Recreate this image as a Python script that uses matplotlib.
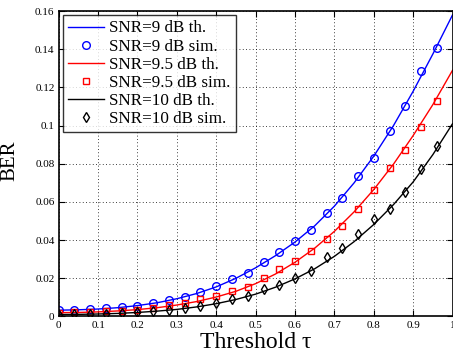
import matplotlib
matplotlib.use('Agg')
import matplotlib.pyplot as plt
from matplotlib.ticker import FuncFormatter

# theory curves
t_th = [0, 0.05, 0.1, 0.15, 0.2, 0.25, 0.3, 0.35, 0.4, 0.45, 0.5,
        0.55, 0.6, 0.65, 0.7, 0.75, 0.8, 0.85, 0.9, 0.95, 1.0]
ber9_th = [0.0033, 0.0035, 0.0039, 0.0046, 0.0057, 0.0072, 0.0093, 0.0120, 0.0155, 0.0200, 0.0255,
           0.0318, 0.0390, 0.0475, 0.0578, 0.0700, 0.0840, 0.1000, 0.1180, 0.1375, 0.1580]
ber95_th = [0.0020, 0.0021, 0.0024, 0.0029, 0.0036, 0.0046, 0.0060, 0.0078, 0.0102, 0.0132, 0.0172,
            0.0222, 0.0284, 0.0358, 0.0446, 0.0548, 0.0665, 0.0798, 0.0948, 0.1110, 0.1290]
ber10_th = [0.0010, 0.0011, 0.0013, 0.0016, 0.0021, 0.0028, 0.0037, 0.0050, 0.0067, 0.0089, 0.0117,
            0.0153, 0.0197, 0.0250, 0.0315, 0.0392, 0.0482, 0.0586, 0.0705, 0.0848, 0.1010]

# simulation points
t_sim = [0, 0.04, 0.08, 0.12, 0.16, 0.2, 0.24, 0.28, 0.32, 0.36, 0.4, 0.44, 0.48,
         0.52, 0.56, 0.6, 0.64, 0.68, 0.72, 0.76, 0.8, 0.84, 0.88, 0.92, 0.96]
ber9_sim = [0.0035, 0.0036, 0.0038, 0.0043, 0.0048, 0.0057, 0.0070, 0.0085, 0.0100, 0.0128, 0.0158, 0.0196, 0.0228,
            0.0285, 0.0338, 0.0396, 0.0455, 0.0543, 0.0622, 0.0735, 0.0831, 0.0970, 0.1103, 0.1285, 0.1406]
ber95_sim = [0.0020, 0.0021, 0.0023, 0.0027, 0.0031, 0.0036, 0.0045, 0.0058, 0.0070, 0.0093, 0.0108, 0.0133, 0.0156,
             0.0200, 0.0250, 0.0292, 0.0345, 0.0405, 0.0474, 0.0563, 0.0663, 0.0779, 0.0870, 0.0992, 0.1128]
ber10_sim = [0.0010, 0.0011, 0.0012, 0.0015, 0.0018, 0.0022, 0.0027, 0.0033, 0.0042, 0.0055, 0.0073, 0.0090, 0.0109,
             0.0145, 0.0163, 0.0200, 0.0240, 0.0310, 0.0360, 0.0432, 0.0512, 0.0564, 0.0650, 0.0771, 0.0893]

plt.rcParams['font.family'] = ['Liberation Serif', 'DejaVu Serif']

fig = plt.figure(figsize=(4.53, 3.58), dpi=100)
ax = fig.add_axes([0.1296, 0.116, 0.8694, 0.853])

ax.plot(t_th, ber9_th, 'b-', lw=1, label='SNR=9 dB th.')
ax.plot(t_sim, ber9_sim, 'bo', ms=5.5, mfc='none', mew=1, label='SNR=9 dB sim.')
ax.plot(t_th, ber95_th, 'r-', lw=1, label='SNR=9.5 dB th.')
ax.plot(t_sim, ber95_sim, 'rs', ms=4.5, mfc='none', mew=1, label='SNR=9.5 dB sim.')
ax.plot(t_th, ber10_th, 'k-', lw=1, label='SNR=10 dB th.')
ax.plot(t_sim, ber10_sim, 'kd', ms=5.5, mfc='none', mew=1, label='SNR=10 dB sim.')

ax.set_xlim(0, 1)
ax.set_ylim(0, 0.16)
ax.set_xticks([i / 10 for i in range(11)])
ax.set_yticks([i * 0.02 for i in range(9)])
fmt = FuncFormatter(lambda v, p: '%g' % round(v, 4))
ax.xaxis.set_major_formatter(fmt)
ax.yaxis.set_major_formatter(fmt)
ax.tick_params(direction='in', top=True, right=True, labelsize=8, length=4, width=0.8, pad=3)
ax.grid(True, linestyle=(0, (1, 3)), color='k', lw=0.6)
for s in ax.spines.values():
    s.set_linewidth(1.2)

ax.set_xlabel('Threshold τ', fontsize=17, labelpad=2)
ax.set_ylabel('BER', fontsize=15)
ax.yaxis.set_label_coords(-0.1, 0.51)

leg = ax.legend(loc='upper left', fontsize=12.3, frameon=True, fancybox=False, edgecolor='k',
                handlelength=2.1, labelspacing=0.12, borderaxespad=0.25, handletextpad=0.3,
                borderpad=0.3)
leg.get_frame().set_linewidth(1)

fig.savefig('out.png', dpi=100)
